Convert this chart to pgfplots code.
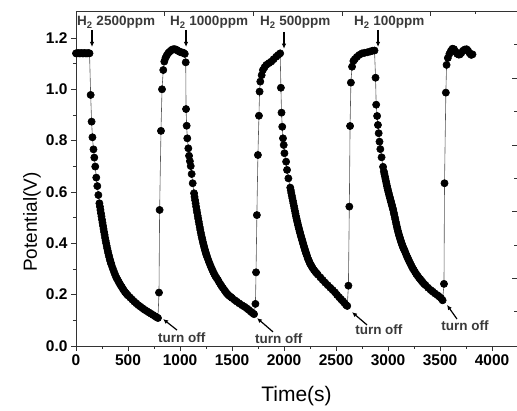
\documentclass[border=0pt]{standalone}
\usepackage{fontspec}
\setmainfont{Liberation Sans}
\usepackage{pgfplots}
\pgfplotsset{compat=1.18}
\usepackage{pgfplotstable}
\usetikzlibrary{arrows.meta}

\definecolor{axisgray}{HTML}{333333}
\definecolor{notegray}{HTML}{3A3A3A}
\definecolor{linegray}{HTML}{555555}

% potential vs time, four H2 pulses
\pgfplotstableread{
t V
0 1.140
10 1.140
20 1.141
30 1.140
40 1.140
50 1.141
60 1.140
70 1.140
80 1.141
90 1.140
100 1.140
110 1.140
120 1.141
130 1.140
141 0.978
150 0.874
158 0.813
168 0.766
176 0.734
185 0.699
195 0.656
205 0.623
215 0.588
225 0.556
230 0.543
235 0.530
240 0.517
245 0.505
250 0.492
255 0.480
260 0.468
265 0.456
270 0.444
275 0.433
280 0.421
285 0.410
290 0.400
295 0.390
300 0.380
305 0.371
310 0.362
315 0.354
320 0.346
325 0.338
330 0.331
335 0.324
340 0.318
350 0.306
360 0.295
370 0.284
380 0.274
390 0.265
400 0.258
410 0.250
420 0.243
430 0.236
440 0.230
450 0.223
460 0.217
470 0.211
480 0.206
490 0.201
500 0.197
520 0.189
540 0.181
560 0.173
580 0.166
600 0.159
620 0.153
640 0.147
660 0.141
680 0.136
700 0.131
720 0.126
740 0.121
760 0.116
775 0.112
788 0.109
798 0.208
804 0.530
817 0.838
827 1.000
839 1.075
849 1.108
860 1.122
872 1.132
885 1.140
897 1.145
910 1.150
922 1.154
935 1.156
948 1.156
960 1.155
972 1.152
985 1.149
998 1.146
1010 1.144
1022 1.143
1034 1.142
1046 1.138
1055 1.105
1058 0.923
1064 0.858
1070 0.809
1080 0.770
1087 0.741
1095 0.720
1103 0.701
1112 0.670
1122 0.634
1135 0.595
1140 0.581
1145 0.568
1150 0.556
1155 0.543
1160 0.530
1165 0.519
1170 0.507
1175 0.496
1180 0.485
1185 0.474
1190 0.463
1195 0.452
1200 0.442
1205 0.432
1210 0.423
1215 0.414
1220 0.405
1225 0.397
1230 0.389
1235 0.381
1240 0.374
1245 0.367
1250 0.360
1255 0.354
1260 0.348
1270 0.337
1280 0.326
1290 0.316
1300 0.306
1310 0.297
1320 0.288
1330 0.280
1340 0.272
1353 0.264
1365 0.257
1375 0.249
1388 0.241
1400 0.233
1412 0.226
1425 0.219
1437 0.212
1449 0.205
1462 0.200
1475 0.195
1488 0.191
1500 0.187
1525 0.179
1545 0.173
1570 0.166
1595 0.159
1620 0.153
1641 0.147
1660 0.141
1680 0.134
1698 0.128
1712 0.124
1725 0.164
1731 0.287
1739 0.510
1749 0.744
1759 0.897
1765 0.991
1772 1.030
1785 1.055
1797 1.075
1813 1.086
1830 1.095
1855 1.102
1878 1.108
1900 1.117
1925 1.127
1945 1.134
1963 1.140
1970 1.006
1976 0.909
1983 0.854
1990 0.809
1997 0.783
2004 0.751
2020 0.718
2029 0.686
2042 0.653
2060 0.617
2065 0.607
2070 0.596
2075 0.586
2080 0.576
2085 0.566
2090 0.556
2095 0.546
2100 0.536
2105 0.526
2110 0.516
2115 0.506
2120 0.497
2125 0.488
2130 0.480
2135 0.471
2140 0.463
2145 0.455
2150 0.447
2155 0.440
2160 0.432
2165 0.425
2170 0.418
2175 0.411
2180 0.404
2185 0.397
2190 0.390
2195 0.383
2200 0.377
2205 0.370
2210 0.364
2215 0.358
2220 0.352
2228 0.342
2236 0.335
2243 0.328
2250 0.321
2258 0.316
2266 0.310
2276 0.303
2288 0.296
2300 0.290
2312 0.284
2325 0.278
2350 0.267
2372 0.257
2395 0.247
2420 0.237
2445 0.227
2468 0.218
2490 0.209
2510 0.199
2530 0.190
2548 0.182
2565 0.175
2580 0.168
2596 0.160
2608 0.156
2619 0.235
2628 0.543
2635 0.857
2643 1.026
2654 1.088
2667 1.110
2680 1.117
2700 1.126
2724 1.134
2750 1.140
2775 1.142
2800 1.144
2827 1.147
2850 1.150
2870 1.151
2880 1.045
2886 0.940
2895 0.896
2903 0.861
2910 0.829
2918 0.796
2926 0.767
2938 0.735
2952 0.698
2960 0.680
2965 0.670
2970 0.661
2975 0.651
2980 0.642
2985 0.632
2990 0.623
2995 0.614
3000 0.606
3005 0.598
3010 0.590
3015 0.582
3020 0.575
3025 0.567
3030 0.560
3035 0.552
3040 0.545
3045 0.537
3050 0.530
3055 0.520
3060 0.511
3065 0.502
3070 0.493
3075 0.483
3080 0.474
3085 0.465
3090 0.456
3095 0.448
3100 0.440
3105 0.433
3110 0.426
3115 0.420
3120 0.413
3125 0.407
3130 0.401
3135 0.395
3140 0.390
3145 0.384
3150 0.379
3157 0.374
3164 0.367
3172 0.359
3180 0.351
3188 0.344
3196 0.337
3205 0.329
3215 0.321
3226 0.312
3237 0.303
3248 0.296
3260 0.288
3272 0.280
3285 0.273
3297 0.266
3310 0.260
3322 0.254
3333 0.248
3347 0.242
3360 0.237
3385 0.227
3410 0.218
3429 0.212
3450 0.205
3475 0.198
3494 0.192
3510 0.186
3525 0.178
3538 0.242
3543 0.634
3556 0.987
3563 1.095
3575 1.122
3590 1.138
3605 1.150
3620 1.158
3635 1.156
3650 1.146
3665 1.138
3680 1.135
3692 1.136
3705 1.142
3720 1.150
3738 1.155
3756 1.156
3770 1.150
3785 1.140
3800 1.134
3812 1.136
}\sensordata

\begin{document}
\begin{tikzpicture}
\useasboundingbox (-76pt,-65pt) rectangle (441pt,346pt);
\begin{axis}[
  at={(0pt,0pt)}, anchor=south west,
  width=441pt, height=335pt, scale only axis,
  xmin=0, xmax=4240, ymin=0, ymax=1.305,
  axis x line*=box, axis y line*=left,
  xtick pos=left,
  xtick={0,500,1000,1500,2000,2500,3000,3500,4000},
  ytick={0,0.2,0.4,0.6,0.8,1.0,1.2},
  minor x tick num=1, minor y tick num=1,
  tick align=outside,
  major tick length=5pt, minor tick length=3pt,
  tick style={axisgray, line width=0.8pt},
  axis line style={axisgray, line width=0.9pt},
  /pgf/number format/assume math mode=true,
  tick label style={font=\bfseries\fontsize{15.5}{17}\selectfont},
  xticklabel style={/pgf/number format/set thousands separator={}},
  yticklabel style={/pgf/number format/.cd, fixed, fixed zerofill, precision=1},
  xlabel={Time(s)},
  xlabel style={font=\fontsize{21}{24}\selectfont, at={(axis description cs:0.5,0)}, anchor=base, yshift=-56pt},
  ylabel={Potential(V)},
  ylabel style={font=\fontsize{19}{22}\selectfont, at={(axis description cs:-0.1,0.37)}, anchor=center},
  clip mode=individual,
]
\addplot[color=linegray, line width=0.6pt, mark=*, mark size=3.6pt,
  mark options={solid, fill=black, draw=black}] table[x=t, y=V] {\sensordata};

% gas-on labels
\begin{scope}[every node/.style={font=\bfseries\fontsize{13.5}{15}\selectfont, text=notegray, inner sep=0pt}]
\node[anchor=base west] at (axis cs:10,1.247) {H\textsubscript{2} 2500ppm};
\node[anchor=base west] at (axis cs:904,1.247) {H\textsubscript{2} 1000ppm};
\node[anchor=base west] at (axis cs:1769,1.247) {H\textsubscript{2} 500ppm};
\node[anchor=base west] at (axis cs:2673,1.247) {H\textsubscript{2} 100ppm};
\node[anchor=base west] at (axis cs:788,0.012) {turn off};
\node[anchor=base west] at (axis cs:1721,0.008) {turn off};
\node[anchor=base west] at (axis cs:2683,0.043) {turn off};
\node[anchor=base west] at (axis cs:3510,0.062) {turn off};
\end{scope}
\begin{scope}[line width=1.2pt, -{Latex[length=5pt,width=4.5pt]}]
\draw (axis cs:154,1.231) -- (axis cs:154,1.165);
\draw (axis cs:1058,1.231) -- (axis cs:1058,1.165);
\draw (axis cs:2000,1.224) -- (axis cs:2000,1.158);
\draw (axis cs:2904,1.231) -- (axis cs:2904,1.165);
\draw (axis cs:971,0.062) -- (axis cs:837,0.105);
\draw (axis cs:1894,0.055) -- (axis cs:1740,0.109);
\draw (axis cs:2798,0.082) -- (axis cs:2654,0.132);
\draw (axis cs:3663,0.105) -- (axis cs:3567,0.160);
\end{scope}
\end{axis}

% stray inner ticks on top and right edges
\begin{axis}[
  at={(0pt,0pt)}, anchor=south west,
  width=441pt, height=335pt, scale only axis,
  xmin=0, xmax=4240, ymin=0, ymax=1.305,
  axis x line*=top, axis y line*=right,
  axis line style={draw=none},
  xtick={846,1702,2558,3404}, minor xtick={3837},
  ytick={0.264,0.523,0.783,1.043}, minor ytick={0.134,0.393,0.654,0.913,1.173},
  xticklabels={}, yticklabels={},
  tick align=inside,
  major tick length=5pt, minor tick length=3pt,
  tick style={axisgray, line width=0.8pt},
]
\end{axis}
\end{tikzpicture}
\end{document}
